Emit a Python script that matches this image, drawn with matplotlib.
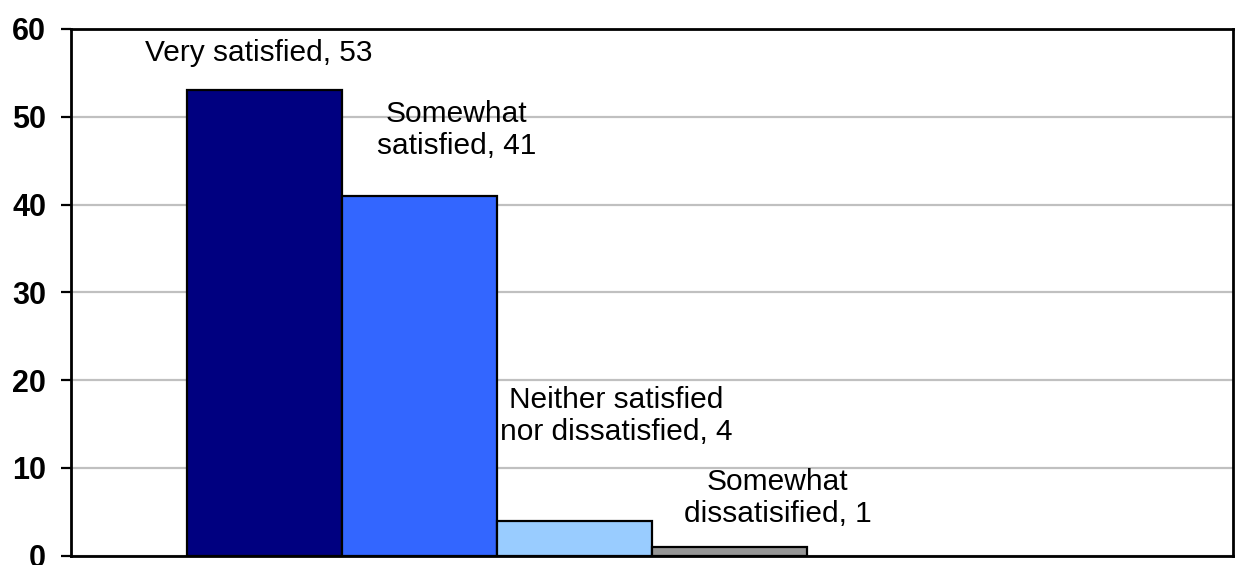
import matplotlib.pyplot as plt

# survey answers, one bar each
categories = ["Very satisfied", "Somewhat satisfied",
              "Neither satisfied nor dissatisfied", "Somewhat dissatisified"]
values = [53, 41, 4, 1]
label_texts = ["Very satisfied, 53", "Somewhat\nsatisfied, 41",
               "Neither satisfied\nnor dissatisfied, 4", "Somewhat\ndissatisified, 1"]
colors = ["#000080", "#3366FF", "#99CCFF", "#969696"]
y_ticks = [0, 10, 20, 30, 40, 50, 60]

# where each data label sits (data units), moved by hand like in the original
label_x = [-0.04, 1.24, 2.27, 3.31]
label_y = [57.3, 48.5, 15.9, 6.6]

plt.rcParams['font.family'] = ['Liberation Sans', 'DejaVu Sans']

fig = plt.figure(figsize=(12.35, 5.65), dpi=100)
ax = fig.add_axes([0.0575, 0.0165, 0.9409, 0.9322])

ax.set_axisbelow(True)
ax.yaxis.grid(True, color="#C0C0C0", linewidth=1.6)

xs = list(range(len(values)))
ax.bar(xs, values, width=1.0, color=colors, edgecolor="black", linewidth=1.6)

for x, y, t in zip(label_x, label_y, label_texts):
    ax.text(x, y, t, ha="center", va="center", fontsize=21.5, linespacing=1.2)

ax.set_xlim(-1.25, 6.25)
ax.set_ylim(0, 60)
ax.set_yticks(y_ticks)
ax.set_xticks([])
ax.tick_params(axis="y", direction="out", length=7, width=1.6, pad=11, labelsize=22)
for lbl in ax.get_yticklabels():
    lbl.set_fontweight("bold")
for s in ax.spines.values():
    s.set_linewidth(2)
    s.set_color("black")

fig.savefig("out.png", dpi=100)
